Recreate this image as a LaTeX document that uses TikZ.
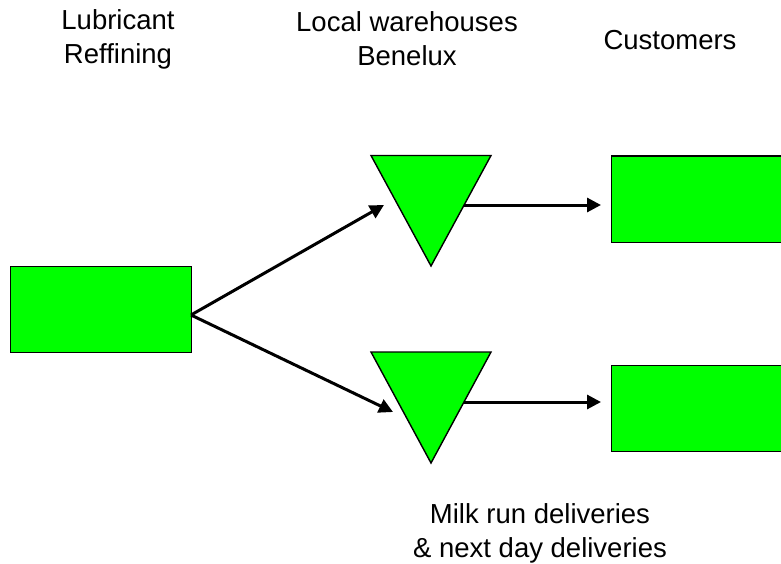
\documentclass[tikz,border=0pt]{standalone}
\usepackage{fontspec}
\setmainfont{Liberation Sans}
\usetikzlibrary{arrows.meta}
\definecolor{boxgreen}{RGB}{0,255,0}
\begin{document}
\begin{tikzpicture}[x=1pt,y=-1pt,
  greenbox/.style={draw=black,line width=1.4pt,fill=boxgreen,minimum width=181pt,minimum height=86pt,inner sep=0pt,anchor=north west},
  greentri/.style={draw=black,line width=1.4pt,fill=boxgreen,line join=miter},
  flow/.style={line width=3pt,-{Triangle[length=14pt,width=14pt]}},
  lbl/.style={font=\fontsize{27.5}{34}\selectfont,align=center,inner sep=0pt}]
\useasboundingbox (0,0) rectangle (781,564);
\node[greenbox] (src) at (10,266) {};
\node[greenbox,minimum width=172pt] (c1) at (611,155.5) {};
\node[greenbox,minimum width=172pt] (c2) at (611,365) {};
\draw[greentri] (371,155.5) -- (491,155.5) -- (431,266) -- cycle;
\draw[greentri] (371,352) -- (491,352) -- (431,463) -- cycle;
\coordinate (s0) at (191,315);
\coordinate (w1in) at (384,205);
\coordinate (w2in) at (393,412);
\coordinate (w1out) at (464,205);
\coordinate (w2out) at (464,402);
\coordinate (c1in) at (601,205);
\coordinate (c2in) at (601,402);
\draw[flow] (s0) -- (w1in);
\draw[flow] (s0) -- (w2in);
\draw[flow] (w1out) -- (c1in);
\draw[flow] (w2out) -- (c2in);
\node[lbl] (t1) at (118,39) {Lubricant\\Reffining};
\node[lbl] (t2) at (407,39) {Local warehouses\\Benelux};
\node[lbl] (t3) at (670,40) {Customers};
\node[lbl] (t4) at (540,533) {Milk run deliveries\\\& next day deliveries};
\end{tikzpicture}
\end{document}
